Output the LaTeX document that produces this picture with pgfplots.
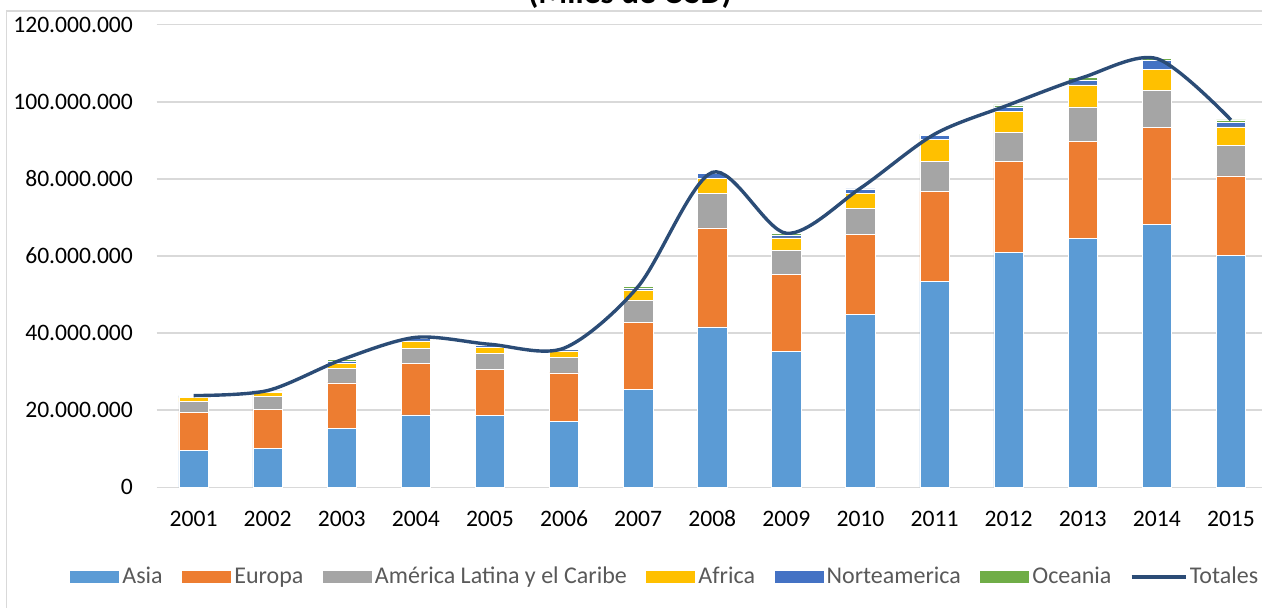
\documentclass[border=0pt]{standalone}
\usepackage{fontspec}
\setmainfont{Carlito}
\usepackage{pgfplots}
\pgfplotsset{compat=1.18}
\usepackage{pgfplotstable}

\definecolor{casia}{HTML}{5B9BD5}
\definecolor{ceuropa}{HTML}{ED7D31}
\definecolor{camerica}{HTML}{A5A5A5}
\definecolor{cafrica}{HTML}{FFC000}
\definecolor{cnorte}{HTML}{4472C4}
\definecolor{coceania}{HTML}{70AD47}
\definecolor{ctotal}{RGB}{43,76,118}
\definecolor{gridgray}{HTML}{D9D9D9}
\definecolor{legendgray}{HTML}{595959}

\pgfplotsset{
  barlegend/.style={legend image code/.code={\fill[##1] (0pt,-3.25pt) rectangle (25pt,3.25pt);}},
  linelegend/.style={legend image code/.code={\draw[##1] (0pt,0pt) -- (27pt,0pt);}},
}

% values in millions of USD (miles de USD / 1000)
\pgfplotstableread{
x asia europa america africa norte oceania total
0  9.6  9.75  2.85 1.05 0.40 0.15 23.8
1  10.0 10.3  3.2  1.05 0.45 0.20 25.1
2  15.3 11.8  3.7  1.4  0.50 0.40 33.1
3  18.8 13.3  3.95 1.95 0.60 0.30 38.9
4  18.7 11.9  4.1  1.6  0.50 0.30 37.1
5  17.1 12.6  4.0  1.7  0.45 0.25 36.1
6  25.4 17.3  5.8  2.7  0.50 0.40 52.1
7  41.6 25.7  8.9  3.95 1.20 0.35 81.7
8  35.3 19.95 6.15 3.3  0.80 0.40 65.9
9  44.9 20.7  6.7  4.0  1.10 0.20 77.6
10 53.4 23.3  7.8  5.8  0.90 0.40 91.6
11 60.9 23.7  7.4  5.6  1.10 0.50 99.2
12 64.5 25.15 9.05 5.7  1.30 0.60 106.3
13 68.2 25.2  9.5  5.5  2.30 0.50 111.2
14 60.1 20.7  7.8  4.9  1.20 0.60 95.3
}\datatable

\begin{document}
\begin{tikzpicture}
% chart frame
\draw[gridgray, line width=0.75pt] (3.35pt,-20pt) -- (3.35pt,298pt) -- (660pt,298pt);
% title (cut off at top in the reference)
\node[anchor=base, font=\fontsize{16.6}{20}\selectfont\bfseries] at (315pt,301.6pt) {(Miles de USD)};

\begin{axis}[
  at={(78.25pt,59.85pt)}, anchor=south west,
  scale only axis, width=555.75pt, height=231.3pt,
  xmin=-0.5, xmax=14.5, ymin=0, ymax=120,
  ybar stacked, bar width=14.7pt,
  xtick={0,...,14},
  xticklabels={2001,2002,2003,2004,2005,2006,2007,2008,2009,2010,2011,2012,2013,2014,2015},
  ytick={0,20,40,60,80,100,120},
  yticklabels={0,20.000.000,40.000.000,60.000.000,80.000.000,100.000.000,120.000.000},
  ymajorgrids, grid style={draw=gridgray, line width=0.75pt},
  axis line style={draw=none}, major tick length=0pt,
  tick label style={font=\fontsize{11.8}{14}\selectfont, text=black},
  yticklabel style={anchor=east, inner sep=0pt, xshift=-11.6pt},
  xticklabel style={anchor=base, inner sep=0pt, yshift=-19.6pt},
  legend columns=-1,
  legend style={at={(0.4575,-0.1939)}, anchor=center, draw=none, fill=none,
    font=\fontsize{12}{14}\selectfont, text=legendgray,
    /tikz/every even column/.append style={column sep=8pt},
    inner sep=0pt, nodes={inner sep=1.25pt}},
]
\addplot[fill=casia, draw=white, line width=0.3pt, barlegend] table[x=x,y=asia]{\datatable};
\addlegendentry{Asia}
\addplot[fill=ceuropa, draw=white, line width=0.3pt, barlegend] table[x=x,y=europa]{\datatable};
\addlegendentry{Europa}
\addplot[fill=camerica, draw=white, line width=0.3pt, barlegend] table[x=x,y=america]{\datatable};
\addlegendentry{América Latina y el Caribe}
\addplot[fill=cafrica, draw=white, line width=0.3pt, barlegend] table[x=x,y=africa]{\datatable};
\addlegendentry{Africa}
\addplot[fill=cnorte, draw=white, line width=0.3pt, barlegend] table[x=x,y=norte]{\datatable};
\addlegendentry{Norteamerica}
\addplot[fill=coceania, draw=white, line width=0.3pt, barlegend] table[x=x,y=oceania]{\datatable};
\addlegendentry{Oceania}
\addlegendimage{ctotal, line width=1.7pt, linelegend}
\addlegendentry{Totales}
\end{axis}

\begin{axis}[
  at={(78.25pt,59.85pt)}, anchor=south west,
  scale only axis, width=555.75pt, height=231.3pt,
  xmin=-0.5, xmax=14.5, ymin=0, ymax=120,
  hide axis,
]
\addplot[ctotal, line width=1.7pt, smooth, mark=none] table[x=x,y=total]{\datatable};
\end{axis}

\pgfresetboundingbox
\useasboundingbox (0pt,0pt) rectangle (631pt,303.5pt);
\end{tikzpicture}
\end{document}
